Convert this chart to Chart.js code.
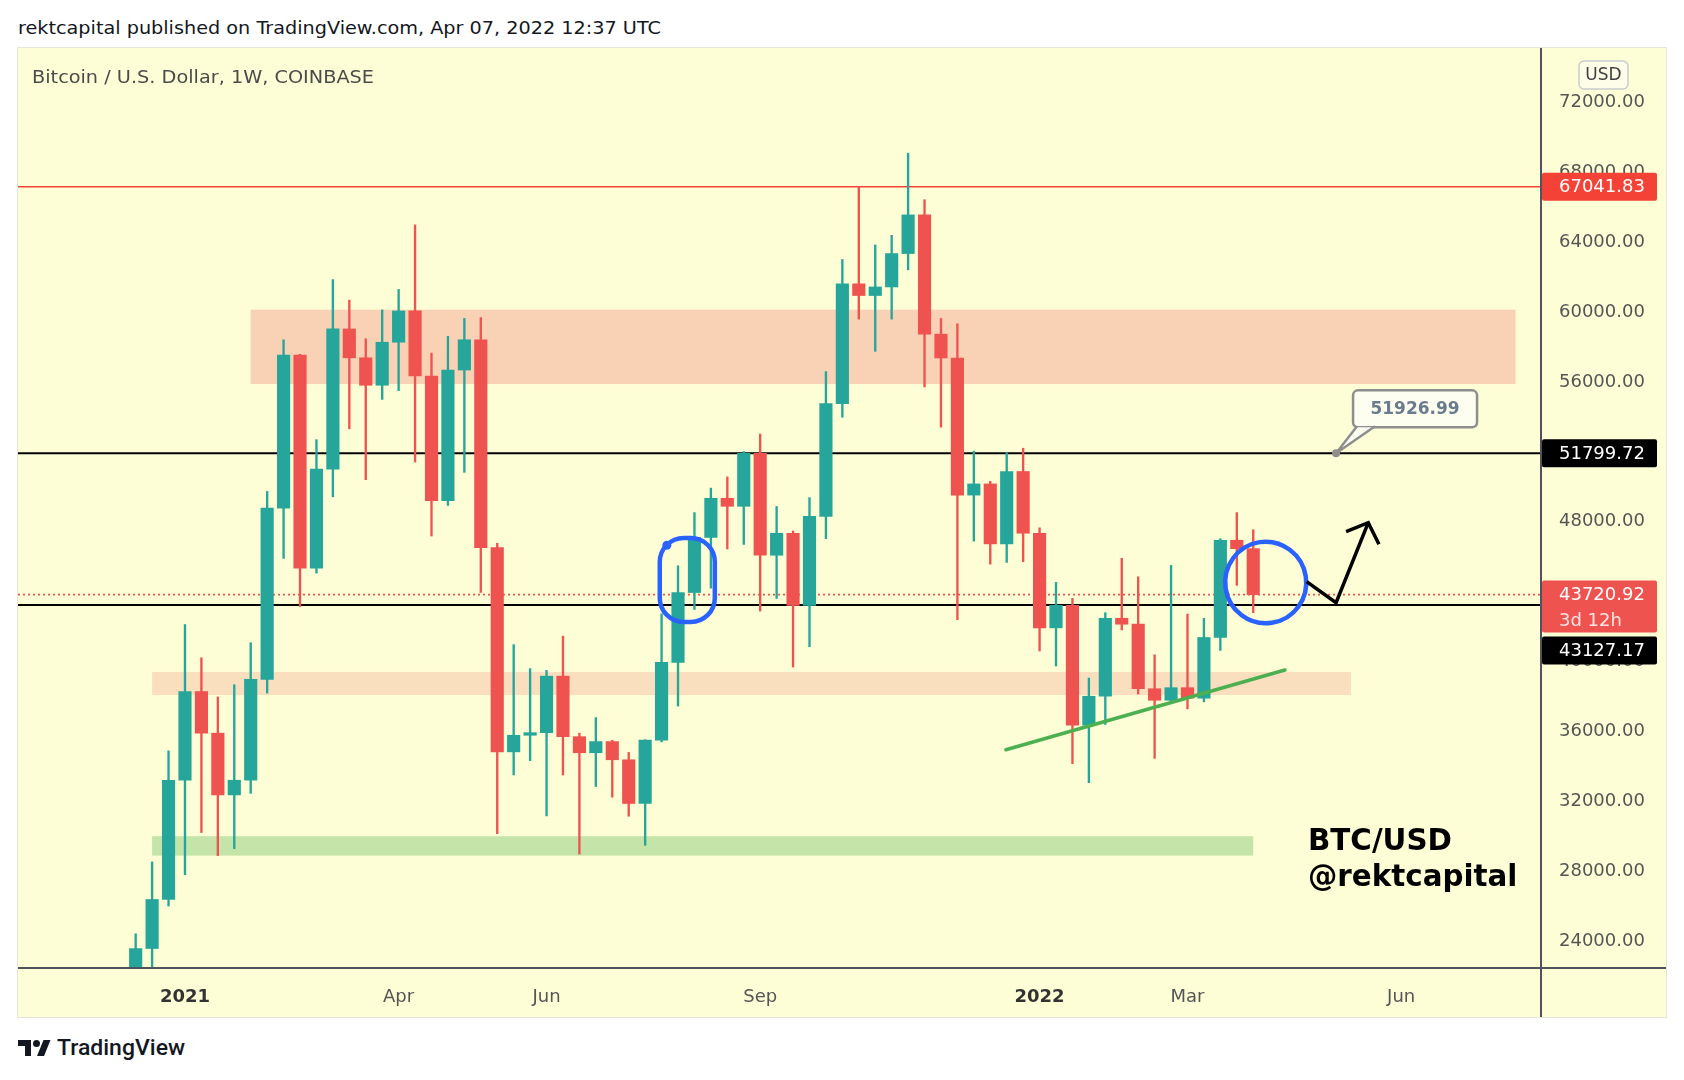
<!DOCTYPE html>
<html>
<head>
<meta charset="utf-8">
<title>BTC/USD 1W</title>
<script src="https://cdn.jsdelivr.net/npm/chart.js@4.4.1/dist/chart.umd.min.js"></script>
<style>
    html, body { margin: 0; padding: 0; background: #ffffff; }
    body { width: 1684px; height: 1080px; position: relative; overflow: hidden; font-family: "DejaVu Sans", sans-serif; }
    .fit { position: absolute; white-space: nowrap; transform-origin: left center; }
    #header { left: 18px; top: 17px; font-size: 18px; color: #131722; }
    #frame { position: absolute; left: 18px; top: 48px; width: 1648px; height: 969px; background: #fefed6; box-shadow: 0 0 0 1px #e6e6dc; }
    #chart { position: absolute; left: 0; top: 0; }
    #title { left: 14px; top: 19px; font-size: 17px; color: #4b4b4b; }
    #logo { position: absolute; left: 18px; top: 1038px; height: 20px; }
    #logoText { left: 57px; top: 1035px; font-family: Roboto, sans-serif; font-weight: 500; font-size: 22px; color: #131722; }
</style>
</head>
<body>
<div id="header" class="fit">rektcapital published on TradingView.com, Apr 07, 2022 12:37 UTC</div>
<div id="frame">
    <canvas id="chart" width="1648" height="969"></canvas>
    <div id="title" class="fit">Bitcoin / U.S. Dollar, 1W, COINBASE</div>
</div>
<svg id="logo" width="36" height="20" viewBox="0 0 36 20">
    <path d="M13 18H7V8H0V2h13v16Z" fill="#131722"/>
    <circle cx="18.5" cy="5.5" r="3.5" fill="#131722"/>
    <path d="M26 18h-7l6.5-16h7L26 18Z" fill="#131722"/>
</svg>
<div id="logoText" class="fit">TradingView</div>

<script>
// Týdenní svíčky BTC/USD (Coinbase)
const weeks = [
    '2020-12-14', '2020-12-21', '2020-12-28', '2021-01-04', '2021-01-11', '2021-01-18', '2021-01-25',
    '2021-02-01', '2021-02-08', '2021-02-15', '2021-02-22', '2021-03-01', '2021-03-08', '2021-03-15',
    '2021-03-22', '2021-03-29', '2021-04-05', '2021-04-12', '2021-04-19', '2021-04-26', '2021-05-03',
    '2021-05-10', '2021-05-17', '2021-05-24', '2021-05-31', '2021-06-07', '2021-06-14', '2021-06-21',
    '2021-06-28', '2021-07-05', '2021-07-12', '2021-07-19', '2021-07-26', '2021-08-02', '2021-08-09',
    '2021-08-16', '2021-08-23', '2021-08-30', '2021-09-06', '2021-09-13', '2021-09-20', '2021-09-27',
    '2021-10-04', '2021-10-11', '2021-10-18', '2021-10-25', '2021-11-01', '2021-11-08', '2021-11-15',
    '2021-11-22', '2021-11-29', '2021-12-06', '2021-12-13', '2021-12-20', '2021-12-27', '2022-01-03',
    '2022-01-10', '2022-01-17', '2022-01-24', '2022-01-31', '2022-02-07', '2022-02-14', '2022-02-21',
    '2022-02-28', '2022-03-07', '2022-03-14', '2022-03-21', '2022-03-28', '2022-04-04'
];
const opens = [
    19270, 23490, 26290, 33110, 38180, 35800, 32270, 33110, 38880, 48670, 57420, 45230, 50900, 58910,
    57260, 55690, 58150, 59940, 56220, 49090, 56560, 58290, 46410, 34730, 35680, 35830, 39060, 35600,
    34680, 35320, 34280, 31780, 35400, 39850, 43840, 46990, 49230, 48770, 51800, 45970, 47230, 43110,
    48190, 54640, 61490, 60820, 61310, 63220, 65430, 58610, 57250, 49410, 50050, 46620, 50760, 47230,
    41820, 43110, 36260, 37910, 42370, 42030, 38340, 37680, 38400, 37800, 41270, 46830, 46350
];
const highs = [
    24330, 28440, 34790, 42010, 40110, 37870, 38570, 40970, 49620, 58290, 57460, 52580, 61730, 60560,
    58350, 60000, 61170, 64860, 57530, 58490, 59510, 59560, 46650, 40860, 39490, 39390, 41350, 35800,
    36690, 35400, 34700, 35420, 42620, 45370, 48410, 49810, 50450, 51900, 52900, 48760, 47360, 49270,
    56470, 62880, 67040, 63710, 64260, 68960, 66300, 59510, 59200, 51920, 50200, 51840, 52090, 47540,
    44420, 43510, 38950, 42690, 45800, 44740, 40280, 45390, 42610, 42370, 46920, 48410, 47430
];
const lows = [
    19000, 21900, 25920, 27710, 30120, 28800, 29200, 32360, 38090, 45790, 43040, 44950, 49310, 53200,
    50290, 54880, 55380, 51300, 47070, 48820, 50710, 43840, 30050, 33410, 34230, 31070, 33410, 28890,
    32750, 32140, 31050, 29390, 35300, 37350, 42870, 44090, 46330, 46590, 42780, 43500, 39580, 40740,
    46920, 53860, 59470, 57630, 59470, 62290, 55590, 53290, 42290, 46780, 45460, 45560, 45600, 40500,
    39640, 34060, 32970, 36300, 41700, 38040, 34360, 37600, 37190, 37590, 40530, 44250, 42690
];
const closes = [
    23490, 26290, 33110, 38180, 35800, 32270, 33110, 38880, 48670, 57420, 45230, 50900, 58910, 57260,
    55690, 58150, 59940, 56220, 49090, 56560, 58290, 46410, 34730, 35680, 35830, 39060, 35600, 34680,
    35320, 34280, 31780, 35400, 39850, 43840, 46990, 49230, 48770, 51800, 45970, 47230, 43110, 48190,
    54640, 61490, 60820, 61310, 63220, 65430, 58610, 57250, 49410, 50050, 46620, 50760, 47230, 41820,
    43110, 36260, 37910, 42370, 42030, 38340, 37680, 38400, 37800, 41270, 46830, 46350, 43720.92
];

// Osy
const xMin = -7.16;
const xMax = 85.51;
const xTickIdx = [3, 16, 25, 38, 55, 64, 77];
const xTickLabels = ['2021', 'Apr', 'Jun', 'Sep', '2022', 'Mar', 'Jun'];
const xTickBold = [true, false, false, false, true, false, false];
const yMin = 22375;
const yMax = 74971;
const yTicks = [24000, 28000, 32000, 36000, 40000, 44000, 48000, 52000, 56000, 60000, 64000, 68000, 72000];

// Vodorovné úrovně a zóny
const resistanceLevel = 67041.83;
const blackLevels = [51799.72, 43127.17];
const lastPrice = 43720.92;
const calloutPrice = '51926.99';
const calloutAt = 73.04;
const zones = [
    { from: 7, to: 83.96, low: 55760, high: 60010, color: '#f9d1b5' },
    { from: 1, to: 73.95, low: 37980, high: 39300, color: '#fadfbf' },
    { from: 1, to: 68.0, low: 28800, high: 29910, color: '#c5e4aa' }
];

// Kresby autora
const trendLine = [[52.95, 34855], [69.93, 39411]];
const circleBox = { x0: 31.89, x1: 35.24, top: 46958, bottom: 42156 };
const circleDot = [32.32, 46541];
const circleRound = { cx: 68.76, rx: 2.465, cy: 44414, ry: 2333 };
const arrowPath = [[71.25, 44460], [73.04, 43259], [75.0, 47833]];
const arrowHead = [[73.65, 47318], [75.0, 47833], [75.65, 46598]];
const signAt = [71.33, 29590, 27530];
const signLines = ['BTC/USD', '@rektcapital'];

const UP = '#26a69a';
const DOWN = '#ef5350';
const candleColors = closes.map((c, i) => c >= opens[i] ? UP : DOWN);

function fitText(id, width) {
    const el = document.getElementById(id);
    const w = el.getBoundingClientRect().width;
    el.style.transform = `scaleX(${width / w})`;
}
fitText('header', 643);
fitText('title', 342);
fitText('logoText', 128);

function roundRect(ctx, x, y, w, h, r) {
    ctx.beginPath();
    ctx.roundRect(x, y, w, h, r);
}

function priceBox(ctx, left, right, top, h, fill, lines) {
    ctx.fillStyle = fill;
    roundRect(ctx, left, top, right - left, h, 2);
    ctx.fill();
    ctx.textAlign = 'left';
    ctx.textBaseline = 'middle';
    ctx.font = '18px "DejaVu Sans"';
    lines.forEach((ln, k) => {
        ctx.fillStyle = ln.color || '#ffffff';
        ctx.fillText(ln.text, left + 17, top + 15 + k * 26);
    });
}

const overlay = {
    id: 'overlay',
    beforeDatasetsDraw(chart) {
        const { ctx, chartArea: a, scales: { x, y } } = chart;
        ctx.save();
        ctx.beginPath();
        ctx.rect(a.left, a.top, a.right - a.left, a.bottom - a.top);
        ctx.clip();

        // Zóny
        zones.forEach(z => {
            const x0 = x.getPixelForValue(z.from);
            const x1 = x.getPixelForValue(z.to);
            const y0 = y.getPixelForValue(z.high);
            const y1 = y.getPixelForValue(z.low);
            ctx.fillStyle = z.color;
            ctx.fillRect(x0, y0, x1 - x0, y1 - y0);
        });

        // Červená rezistence
        let py = y.getPixelForValue(resistanceLevel);
        ctx.strokeStyle = '#f44336';
        ctx.lineWidth = 1.6;
        ctx.beginPath();
        ctx.moveTo(a.left, py);
        ctx.lineTo(a.right, py);
        ctx.stroke();

        // Černé úrovně
        ctx.strokeStyle = '#000000';
        ctx.lineWidth = 2;
        blackLevels.forEach(v => {
            const yy = y.getPixelForValue(v);
            ctx.beginPath();
            ctx.moveTo(a.left, yy);
            ctx.lineTo(a.right, yy);
            ctx.stroke();
        });

        // Poslední cena - tečkovaná
        py = y.getPixelForValue(lastPrice);
        ctx.strokeStyle = '#ef5350';
        ctx.lineWidth = 1.6;
        ctx.setLineDash([2, 3]);
        ctx.beginPath();
        ctx.moveTo(a.left, py);
        ctx.lineTo(a.right, py);
        ctx.stroke();
        ctx.restore();
    },
    afterDatasetsDraw(chart) {
        const { ctx, chartArea: a, scales: { x, y } } = chart;
        const X = v => x.getPixelForValue(v);
        const Y = v => y.getPixelForValue(v);
        ctx.save();
        ctx.beginPath();
        ctx.rect(a.left, a.top, a.right - a.left, a.bottom - a.top);
        ctx.clip();

        // Zelená trendová linie
        ctx.strokeStyle = '#4caf50';
        ctx.lineWidth = 3.5;
        ctx.lineCap = 'round';
        ctx.beginPath();
        ctx.moveTo(X(trendLine[0][0]), Y(trendLine[0][1]));
        ctx.lineTo(X(trendLine[1][0]), Y(trendLine[1][1]));
        ctx.stroke();

        // Modré kroužky
        ctx.strokeStyle = '#2962ff';
        ctx.lineWidth = 4.5;
        const bx0 = X(circleBox.x0), bx1 = X(circleBox.x1);
        const by0 = Y(circleBox.top), by1 = Y(circleBox.bottom);
        roundRect(ctx, bx0, by0, bx1 - bx0, by1 - by0, 24);
        ctx.stroke();
        ctx.fillStyle = '#2962ff';
        ctx.beginPath();
        ctx.arc(X(circleDot[0]), Y(circleDot[1]), 4.5, 0, Math.PI * 2);
        ctx.fill();

        const cx = X(circleRound.cx), cy = Y(circleRound.cy);
        const rx = X(circleRound.cx + circleRound.rx) - cx;
        const ry = Y(circleRound.cy - circleRound.ry) - cy;
        ctx.beginPath();
        ctx.ellipse(cx, cy, rx, ry, -0.15, 0, Math.PI * 2);
        ctx.stroke();

        // Šipka nahoru
        ctx.strokeStyle = '#000000';
        ctx.lineWidth = 3.5;
        ctx.lineJoin = 'miter';
        ctx.lineCap = 'butt';
        [arrowPath, arrowHead].forEach(path => {
            ctx.beginPath();
            path.forEach((p, k) => k ? ctx.lineTo(X(p[0]), Y(p[1])) : ctx.moveTo(X(p[0]), Y(p[1])));
            ctx.stroke();
        });

        // Bublina s cenou
        const ax = X(calloutAt), ay = Y(blackLevels[0]);
        ctx.lineJoin = 'round';
        ctx.fillStyle = '#fdfdf0';
        ctx.strokeStyle = '#8e8e8e';
        ctx.lineWidth = 2.5;
        roundRect(ctx, ax + 17, ay - 63, 124, 37, 5);
        ctx.fill();
        ctx.stroke();
        ctx.beginPath();
        ctx.moveTo(ax, ay);
        ctx.lineTo(ax + 21, ay - 26);
        ctx.lineTo(ax + 39, ay - 26);
        ctx.closePath();
        ctx.fill();
        ctx.beginPath();
        ctx.moveTo(ax + 21, ay - 27);
        ctx.lineTo(ax, ay);
        ctx.lineTo(ax + 39, ay - 27);
        ctx.stroke();
        ctx.fillStyle = '#8e8e8e';
        ctx.beginPath();
        ctx.arc(ax, ay, 4, 0, Math.PI * 2);
        ctx.fill();
        ctx.fillStyle = '#6a7b8d';
        ctx.font = 'bold 17px "DejaVu Sans"';
        ctx.textAlign = 'center';
        ctx.textBaseline = 'middle';
        ctx.fillText(calloutPrice, ax + 79, ay - 44);

        // Podpis
        ctx.fillStyle = '#000000';
        ctx.font = 'bold 30px "DejaVu Sans"';
        ctx.textAlign = 'left';
        const sx = 144 / ctx.measureText(signLines[0]).width;
        signLines.forEach((t, k) => {
            ctx.save();
            ctx.translate(X(signAt[0]), Y(signAt[k + 1]));
            ctx.scale(sx, 1);
            ctx.fillText(t, 0, 0);
            ctx.restore();
        });
        ctx.restore();
    },
    afterDraw(chart) {
        const { ctx, chartArea: a, scales: { y }, width, height } = chart;
        ctx.save();

        // Hrany os
        ctx.strokeStyle = '#50535e';
        ctx.lineWidth = 2;
        ctx.beginPath();
        ctx.moveTo(a.right, 0);
        ctx.lineTo(a.right, height);
        ctx.moveTo(0, a.bottom);
        ctx.lineTo(width, a.bottom);
        ctx.stroke();

        // Cenové štítky
        const l = a.right + 1, r = a.right + 116;
        priceBox(ctx, l, r, y.getPixelForValue(resistanceLevel) - 14, 28, '#f44336',
            [{ text: resistanceLevel.toFixed(2) }]);
        priceBox(ctx, l, r, y.getPixelForValue(blackLevels[0]) - 14, 28, '#000000',
            [{ text: blackLevels[0].toFixed(2) }]);
        const lastTop = y.getPixelForValue(lastPrice) - 14;
        priceBox(ctx, l, r, lastTop, 52, '#ef5350',
            [{ text: lastPrice.toFixed(2) }, { text: '3d 12h', color: 'rgba(255,255,255,0.85)' }]);
        priceBox(ctx, l, r, lastTop + 56, 28, '#000000',
            [{ text: blackLevels[1].toFixed(2) }]);

        // USD
        ctx.fillStyle = '#fefee8';
        ctx.strokeStyle = '#c9cbd1';
        ctx.lineWidth = 1.5;
        roundRect(ctx, a.right + 38, 13, 49, 28, 5);
        ctx.fill();
        ctx.stroke();
        ctx.fillStyle = '#3f3f3f';
        ctx.font = '17px "DejaVu Sans"';
        ctx.textAlign = 'center';
        ctx.textBaseline = 'middle';
        ctx.fillText('USD', a.right + 62.5, 28);
        ctx.restore();
    }
};

const chart = new Chart(document.getElementById('chart'), {
    type: 'bar',
    data: {
        datasets: [{
            label: 'Knoty',
            data: weeks.map((w, i) => ({ x: i, y: [lows[i], highs[i]] })),
            backgroundColor: candleColors,
            barThickness: 1.7,
            grouped: false,
            order: 2
        }, {
            label: 'Těla',
            data: weeks.map((w, i) => ({ x: i, y: [opens[i], closes[i]] })),
            backgroundColor: candleColors,
            barThickness: 12.5,
            grouped: false,
            order: 1
        }]
    },
    options: {
        responsive: false,
        animation: false,
        devicePixelRatio: 1,
        layout: { padding: 0 },
        plugins: {
            legend: { display: false },
            tooltip: { enabled: false }
        },
        scales: {
            x: {
                type: 'linear',
                min: xMin,
                max: xMax,
                offset: false,
                grid: { display: false, drawTicks: false },
                border: { display: false },
                afterBuildTicks: s => { s.ticks = xTickIdx.map(v => ({ value: v })); },
                afterFit: s => {
                    s.height = 49;
                    s.paddingLeft = 0;
                    s.paddingRight = 0;
                },
                ticks: {
                    autoSkip: false,
                    maxRotation: 0,
                    padding: 19,
                    color: c => xTickBold[c.index] ? '#333333' : '#555555',
                    font: c => ({ family: 'DejaVu Sans', size: 18, weight: xTickBold[c.index] ? 'bold' : 'normal' }),
                    callback: (v, i) => xTickLabels[i]
                }
            },
            y: {
                type: 'linear',
                position: 'right',
                min: yMin,
                max: yMax,
                grid: { display: false, drawTicks: false },
                border: { display: false },
                afterBuildTicks: s => { s.ticks = yTicks.map(v => ({ value: v })); },
                afterFit: s => {
                    s.width = 125;
                    s.paddingTop = 0;
                    s.paddingBottom = 0;
                },
                ticks: {
                    padding: 18,
                    labelOffset: 2,
                    color: '#555555',
                    font: { family: 'DejaVu Sans', size: 18 },
                    callback: v => v.toFixed(2)
                }
            }
        }
    },
    plugins: [overlay]
});
</script>
</body>
</html>
